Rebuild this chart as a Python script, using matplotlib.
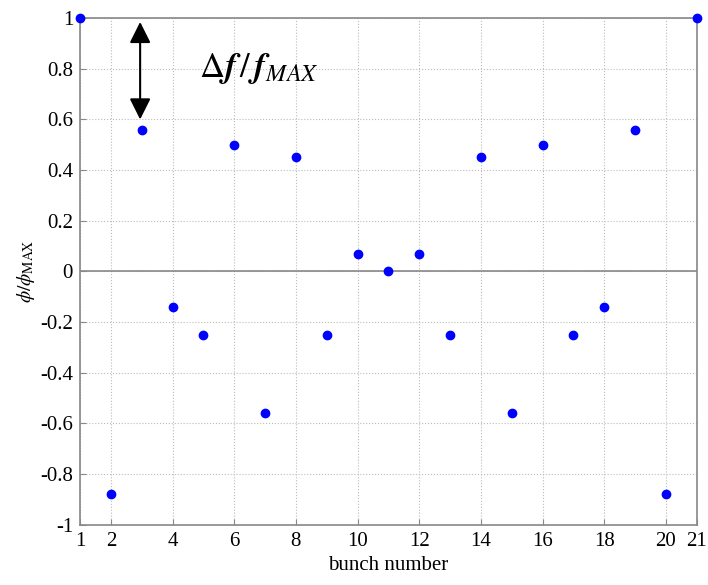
import matplotlib
matplotlib.use("Agg")
import matplotlib.pyplot as plt

# bunch-by-bunch normalised phase
bunches = list(range(1, 22))
phase = [1.0, -0.88, 0.56, -0.14, -0.25, 0.50, -0.56, 0.45, -0.25, 0.07, 0.0,
         0.07, -0.25, 0.45, -0.56, 0.50, -0.25, -0.14, 0.56, -0.88, 1.0]
xticks = [1, 2, 4, 6, 8, 10, 12, 14, 16, 18, 20, 21]
yticks = [-1, -0.8, -0.6, -0.4, -0.2, 0, 0.2, 0.4, 0.6, 0.8, 1]

plt.rcParams["font.family"] = ["Liberation Serif", "DejaVu Serif"]
plt.rcParams["mathtext.fontset"] = "stix"

fig = plt.figure(figsize=(7.08, 5.85), dpi=100)
ax = fig.add_axes([0.113, 0.103, 0.871, 0.866])

ax.plot(bunches, phase, "o", color="#0000ff", markersize=6, zorder=3, clip_on=False)
ax.axhline(0, color="#888888", linewidth=1.2, zorder=2)

ax.set_xlim(1, 21)
ax.set_ylim(-1, 1)
ax.set_xticks(xticks)
ax.set_yticks(yticks)
ax.set_yticklabels([f"{v:g}" for v in yticks])
ax.tick_params(labelsize=15, direction="in", length=4, color="#888888", pad=5)
ax.grid(True, linestyle=":", color="#bbbbbb", linewidth=0.8)
for spine in ax.spines.values():
    spine.set_color("#888888")
    spine.set_linewidth(1.2)

ax.set_xlabel("bunch number", fontsize=15, labelpad=4)
ax.set_ylabel(r"$\phi/\phi_{\rm MAX}$", fontsize=14, labelpad=2)

# amplitude marker
ax.annotate("", xy=(2.95, 0.6), xytext=(2.95, 0.985),
            arrowprops=dict(arrowstyle="<|-|>", color="black", lw=1.5,
                            mutation_scale=32, shrinkA=0, shrinkB=0))
ax.text(4.85, 0.80, r"$\Delta \mathbfit{f}\,/\,\mathbfit{f}_{MAX}$",
        fontsize=25, ha="left", va="center")

fig.savefig("out.png", dpi=100)
